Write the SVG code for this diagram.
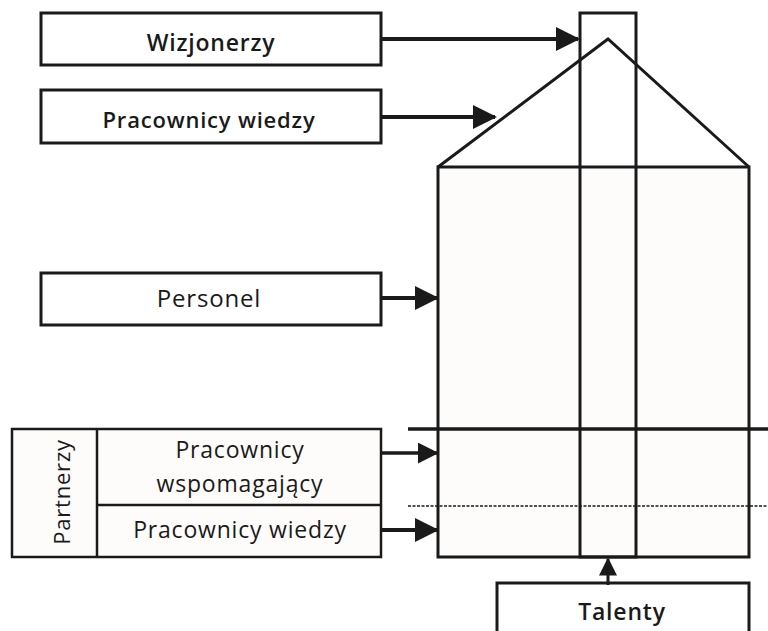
<svg xmlns="http://www.w3.org/2000/svg" width="768" height="631" viewBox="0 0 768 631">
<defs>
<marker id="ah" markerWidth="6" markerHeight="6" refX="5.5" refY="3" orient="auto" markerUnits="strokeWidth">
<path d="M0,0 L6,3 L0,6 z" fill="#1a1a1a"/>
</marker>
<style>
.box{fill:#ffffff;stroke:#1a1a1a;stroke-width:3}
.pbox{fill:#fdfcfa;stroke:#1a1a1a;stroke-width:2.5}
.house{fill:#fdfcfa;stroke:#1a1a1a;stroke-width:3}
.ln{stroke:#1a1a1a;stroke-width:3;fill:none}
.t{font-family:"Open Sans","Liberation Sans",sans-serif;font-size:23px;fill:#1a1a1a;text-anchor:middle;letter-spacing:0.8px}
.b{font-weight:600;letter-spacing:0.8px}
.arr{stroke:#1a1a1a;stroke-width:4;fill:none;marker-end:url(#ah)}
</style>
</defs>
<g id="house">
<rect class="house" x="438" y="167" width="311" height="390"/>
<polyline class="ln" points="438,167 608,39 749,167"/>
<rect x="580" y="13" width="56" height="544" fill="none" stroke="#1a1a1a" stroke-width="3"/>
<line x1="408" y1="429" x2="768" y2="429" stroke="#1a1a1a" stroke-width="3.5"/>
<line x1="408" y1="506" x2="768" y2="506" stroke="#1a1a1a" stroke-width="1.5" stroke-dasharray="3,1.5"/>
</g>
<g id="wizjonerzy">
<rect class="box" x="41" y="13" width="340" height="52"/>
<text class="t b" x="211" y="51">Wizjonerzy</text>
</g>
<g id="pracownicy-wiedzy-top">
<rect class="box" x="41" y="90" width="340" height="53"/>
<text class="t b" x="209" y="128" style="font-size:22px">Pracownicy wiedzy</text>
</g>
<g id="personel">
<rect class="box" x="41" y="273" width="340" height="52"/>
<text class="t" x="209" y="307" style="font-size:24px">Personel</text>
</g>
<g id="partnerzy">
<rect class="pbox" x="12" y="429" width="369" height="128"/>
<line x1="97" y1="429" x2="97" y2="557" stroke="#1a1a1a" stroke-width="2.5"/>
<line x1="97" y1="505" x2="381" y2="505" stroke="#1a1a1a" stroke-width="2.5"/>
<text class="t" x="0" y="0" transform="translate(70,492) rotate(-90)" style="font-size:22px">Partnerzy</text>
<text class="t" x="240" y="458">Pracownicy</text>
<text class="t" x="240" y="492">wspomagający</text>
<text class="t" x="240" y="538">Pracownicy wiedzy</text>
</g>
<g id="talenty">
<rect class="box" x="497" y="583" width="252" height="60"/>
<text class="t b" x="622" y="620">Talenty</text>
</g>
<g id="connectors">
<line class="arr" x1="381" y1="39" x2="578" y2="39"/>
<line class="arr" x1="381" y1="117" x2="495" y2="117"/>
<line class="arr" x1="381" y1="298" x2="437" y2="298"/>
<line class="arr" x1="381" y1="453" x2="437" y2="453" style="stroke-width:3.5"/>
<line class="arr" x1="381" y1="530" x2="437" y2="530"/>
<line class="arr" x1="608" y1="585" x2="608" y2="559" style="stroke-width:3"/>
</g>
</svg>
